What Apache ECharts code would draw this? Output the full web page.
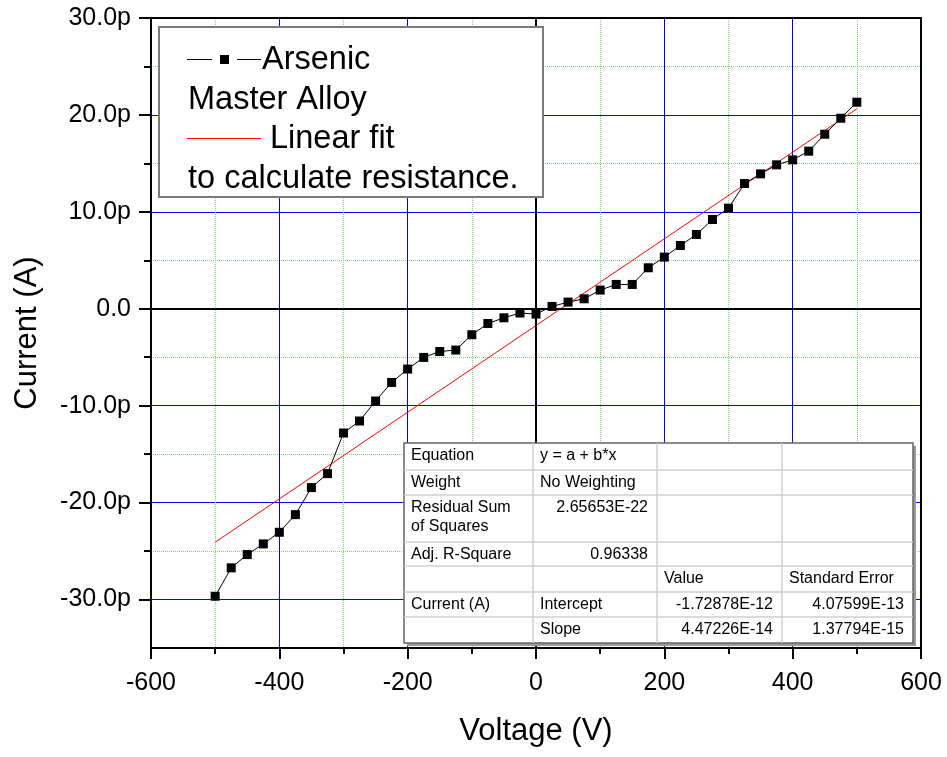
<!DOCTYPE html>
<html><head><meta charset="utf-8">
<script src="https://cdn.jsdelivr.net/npm/echarts@6/dist/echarts.min.js"></script>
<style>html,body{margin:0;padding:0;background:#fff}#c{width:947px;height:757px}</style>
</head><body><div id="c"></div>
<script>
// ---- data (current in pA) ----
const voltage = [-500,-475,-450,-425,-400,-375,-350,-325,-300,-275,-250,-225,-200,-175,-150,-125,-100,-75,-50,-25,0,
  25,50,75,100,125,150,175,200,225,250,275,300,325,350,375,400,425,450,475,500];
const current = [-29.66,-26.73,-25.36,-24.26,-23.06,-21.24,-18.45,-17.01,-12.82,-11.58,-9.52,-7.60,-6.22,-5.02,-4.41,-4.26,-2.68,-1.52,-0.93,-0.44,-0.55,
  0.24,0.69,1.03,1.93,2.51,2.51,4.23,5.33,6.53,7.66,9.21,10.38,12.92,13.92,14.85,15.36,16.26,18.01,19.66,21.31];
const fitVoltage = [-500, 500];
const fitCurrent = [-24.09, 20.63];
const legendText = ['Arsenic', 'Master Alloy', 'Linear fit', 'to calculate resistance.'];
const tableRows = [
  ['Equation', 'y = a + b*x', '', ''],
  ['Weight', 'No Weighting', '', ''],
  ['Residual Sum\nof Squares', '2.65653E-22', '', ''],
  ['Adj. R-Square', '0.96338', '', ''],
  ['', '', 'Value', 'Standard Error'],
  ['Current (A)', 'Intercept', '-1.72878E-12', '4.07599E-13'],
  ['', 'Slope', '4.47226E-14', '1.37794E-15']
];

// ---- layout/styling ----
const FONT = "'Liberation Sans', Arial, sans-serif";
const BLUE = '#0000ff', GREEN = '#6fe06f';
const chart = echarts.init(document.getElementById('c'));

const graphics = [];
// legend box
graphics.push({type:'rect', z:100, shape:{x:159,y:27,width:384,height:170}, style:{fill:'#fff', stroke:'#7a7a7a', lineWidth:2}});
graphics.push({type:'line', z:101, shape:{x1:187,y1:59.5,x2:212,y2:59.5}, style:{stroke:'#000', lineWidth:1}});
graphics.push({type:'rect', z:101, shape:{x:220,y:55,width:9,height:9}, style:{fill:'#000'}});
graphics.push({type:'line', z:101, shape:{x1:237,y1:59.5,x2:261,y2:59.5}, style:{stroke:'#000', lineWidth:1}});
graphics.push({type:'line', z:101, shape:{x1:187,y1:138.5,x2:261,y2:138.5}, style:{stroke:'#ff0000', lineWidth:1}});
const legPos = [[262,60],[188,100],[270,139],[188,179]];
legendText.forEach((t,i)=>{
  graphics.push({type:'text', z:101, style:{text:t, x:legPos[i][0], y:legPos[i][1], font:'32.5px '+FONT, fill:'#000', textAlign:'left', textVerticalAlign:'middle'}});
});

// table
const colX = [404, 533, 657, 782, 913];
const rowY = [443, 470, 495, 542, 566, 592, 617, 643];
graphics.push({type:'rect', z:100, shape:{x:407,y:446,width:509,height:200}, style:{fill:'#9a9a9a'}});
graphics.push({type:'rect', z:101, shape:{x:404,y:443,width:509,height:200}, style:{fill:'#fff', stroke:'#666', lineWidth:1.5}});
for (let i=1;i<colX.length-1;i++) graphics.push({type:'line', z:102, shape:{x1:colX[i],y1:443,x2:colX[i],y2:643}, style:{stroke:'#cfcfcf', lineWidth:1.5}});
for (let j=1;j<rowY.length-1;j++) graphics.push({type:'line', z:102, shape:{x1:404,y1:rowY[j],x2:913,y2:rowY[j]}, style:{stroke:'#cfcfcf', lineWidth:1.5}});
const isNum = s => /^-?[\d.]+(E-?\d+)?$/.test(s);
tableRows.forEach((row,r)=>{
  row.forEach((cell,c)=>{
    if (!cell) return;
    const num = isNum(cell);
    graphics.push({type:'text', z:103, style:{text:cell, x: num ? colX[c+1]-9 : colX[c]+7, y: rowY[r]+3,
      font:'16px '+FONT, fill:'#000', textAlign: num?'right':'left', textVerticalAlign:'top', lineHeight:19}});
  });
});

const option = {
  animation:false,
  backgroundColor:'#fff',
  textStyle:{fontFamily:FONT},
  grid:[
    {left:151, right:26, top:18, bottom:109, containLabel:false, outerBoundsMode:'none'},
    {left:151, right:26, top:18, bottom:157.5, containLabel:false, outerBoundsMode:'none'}
  ],
  xAxis:[
    {type:'value', gridIndex:0, min:-600, max:600, interval:200,
     axisLine:{onZero:false, lineStyle:{color:'#000', width:2}},
     axisTick:{show:true, length:11, lineStyle:{color:'#000', width:2}},
     minorTick:{show:true, splitNumber:2, length:6, lineStyle:{color:'#000', width:2}},
     splitLine:{show:true, showMinLine:false, showMaxLine:false, lineStyle:{color:BLUE, width:1}},
     minorSplitLine:{show:true, lineStyle:{color:GREEN, width:1, type:'dotted'}},
     axisLabel:{fontSize:25, color:'#000', margin:23, fontFamily:FONT},
     name:'Voltage (V)', nameLocation:'middle', nameGap:68, nameTextStyle:{fontSize:31, color:'#000', fontFamily:FONT}},
    {type:'value', gridIndex:1, position:'top', min:-600, max:600, interval:200,
     axisLine:{onZero:false, lineStyle:{color:'#000', width:2}}, axisTick:{show:false}, axisLabel:{show:false}, splitLine:{show:false}}
  ],
  yAxis:[
    {type:'value', gridIndex:0, min:-35, max:30, position:'left',
     axisLine:{show:true, onZero:false, lineStyle:{color:'#000', width:2}}, axisTick:{show:false}, axisLabel:{show:false}, splitLine:{show:false},
     name:'Current (A)', nameLocation:'middle', nameGap:108, nameTextStyle:{fontSize:31, color:'#000', fontFamily:FONT}},
    {type:'value', gridIndex:0, min:-35, max:30, position:'right',
     axisLine:{show:true, onZero:false, lineStyle:{color:'#000', width:2}}, axisTick:{show:false}, axisLabel:{show:false}, splitLine:{show:false}},
    {type:'value', gridIndex:1, min:-30, max:30, interval:10, position:'left',
     axisLine:{show:false, onZero:false},
     axisTick:{show:true, length:12, lineStyle:{color:'#000', width:2}},
     minorTick:{show:true, splitNumber:2, length:7, lineStyle:{color:'#000', width:2}},
     splitLine:{show:true, showMaxLine:false, lineStyle:{color:BLUE, width:1}},
     minorSplitLine:{show:true, lineStyle:{color:GREEN, width:1, type:'dotted'}},
     axisLabel:{fontSize:25, color:'#000', margin:20, fontFamily:FONT,
       formatter: v => v === 0 ? '0.0' : v.toFixed(1) + 'p'}}
  ],
  series:[
    {type:'line', name:'Linear fit', xAxisIndex:0, yAxisIndex:0, z:3, symbol:'none',
     data: fitVoltage.map((v,i)=>[v, fitCurrent[i]]),
     lineStyle:{color:'#ff0000', width:1},
     markLine:{silent:true, symbol:['none','none'], label:{show:false},
       lineStyle:{color:'#000', width:2, type:'solid'}, data:[{xAxis:0},{yAxis:0}]}},
    {type:'line', name:'Arsenic Master Alloy', xAxisIndex:0, yAxisIndex:0, z:5,
     data: voltage.map((v,i)=>[v, current[i]]),
     symbol:'rect', symbolSize:9, itemStyle:{color:'#000'}, lineStyle:{color:'#000', width:1}}
  ],
  graphic: graphics
};
chart.setOption(option);
</script>
</body></html>
